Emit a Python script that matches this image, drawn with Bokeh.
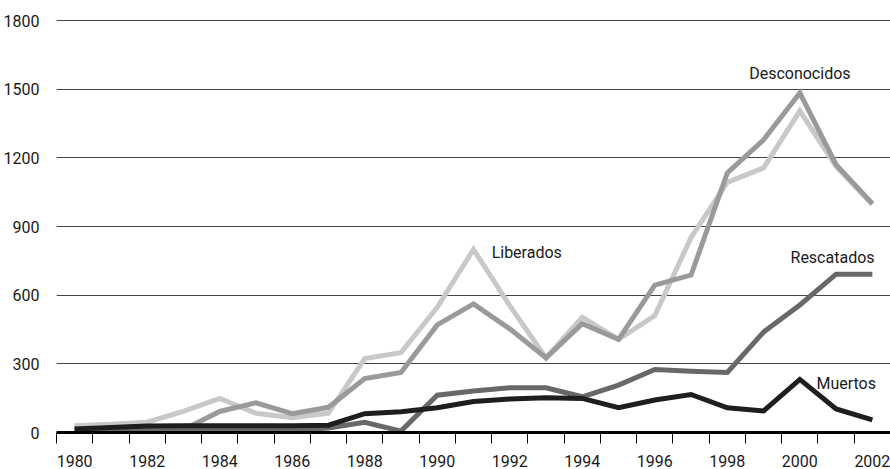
from bokeh.plotting import figure
from bokeh.models import Range1d, FixedTicker, ColumnDataSource
from bokeh.core.properties import value
from bokeh.embed import file_html
from bokeh.resources import INLINE

years = list(range(1980, 2003))
liberados = [29, 36, 45, 92, 149, 84, 65, 85, 323, 349, 547, 800, 554, 326, 504, 407, 511, 852, 1093, 1156, 1405, 1163, 996]
desconocidos = [15, 18, 20, 12, 92, 130, 82, 110, 236, 262, 470, 562, 453, 326, 475, 407, 644, 688, 1134, 1279, 1484, 1170, 1000]
rescatados = [10, 10, 10, 10, 10, 10, 10, 20, 45, 6, 163, 181, 195, 195, 156, 207, 275, 268, 262, 439, 557, 692, 692]
muertos = [15, 22, 28, 30, 30, 30, 30, 32, 82, 91, 108, 135, 146, 152, 149, 108, 142, 166, 108, 94, 232, 103, 55]
y_ticks = [0, 300, 600, 900, 1200, 1500, 1800]
x_label_years = list(range(1980, 2003, 2))

FONT = "Roboto"
TXT = "#1a1a1a"

p = figure(width=890, height=469, output_backend="svg", toolbar_location=None,
           x_range=Range1d(1980, 2003), y_range=Range1d(0, 1809),
           min_border_left=53, min_border_right=0, min_border_top=18, min_border_bottom=30)
p.outline_line_color = None
p.background_fill_color = "white"
p.border_fill_color = "white"

xc = [y + 0.5 for y in years]
series = [
    (liberados, "#c8c8c8"),
    (desconocidos, "#9a9a9a"),
    (rescatados, "#686868"),
    (muertos, "#1e1e1e"),
]
for vals, col in series:
    p.line(xc, vals, line_color=col, line_width=5, line_join="miter", line_cap="butt")

# x axis: minor ticks at year boundaries, labels centred on even years
xt = FixedTicker(ticks=[y + 0.5 for y in x_label_years], minor_ticks=list(range(1980, 2004)))
p.xaxis.ticker = xt
p.xaxis.major_label_overrides = {y + 0.5: str(y) for y in x_label_years}
p.xaxis.major_tick_line_color = None
p.xaxis.major_tick_out = 0
p.xaxis.major_tick_in = 0
p.xaxis.minor_tick_line_color = "black"
p.xaxis.minor_tick_line_width = 1
p.xaxis.minor_tick_out = 11
p.xaxis.minor_tick_in = 0
p.xaxis.axis_line_color = "black"
p.xaxis.axis_line_width = 3
p.xaxis.major_label_standoff = 11
p.xaxis.major_label_text_font = FONT
p.xaxis.major_label_text_font_size = "16px"
p.xaxis.major_label_text_color = TXT

p.yaxis.ticker = FixedTicker(ticks=y_ticks)
p.yaxis.axis_line_color = None
p.yaxis.major_tick_line_color = None
p.yaxis.minor_tick_line_color = None
p.yaxis.major_label_standoff = 11
p.yaxis.major_label_text_font = FONT
p.yaxis.major_label_text_font_size = "16px"
p.yaxis.major_label_text_color = TXT

p.xgrid.grid_line_color = None
p.ygrid.ticker = FixedTicker(ticks=y_ticks)
p.ygrid.grid_line_color = "#444444"
p.ygrid.grid_line_width = 1

# series labels
lab = ColumnDataSource(dict(
    x=[1992.0, 2000.5, 2002.56, 2002.6],
    y=[788, 1570, 766, 214],
    t=["Liberados", "Desconocidos", "Rescatados", "Muertos"],
    a=["left", "center", "right", "right"],
))
p.text(x="x", y="y", text="t", text_align="a", source=lab, text_baseline="middle",
       text_font=value(FONT), text_font_size="16px", text_color=TXT)

open("out.html", "w").write(file_html(p, INLINE))
